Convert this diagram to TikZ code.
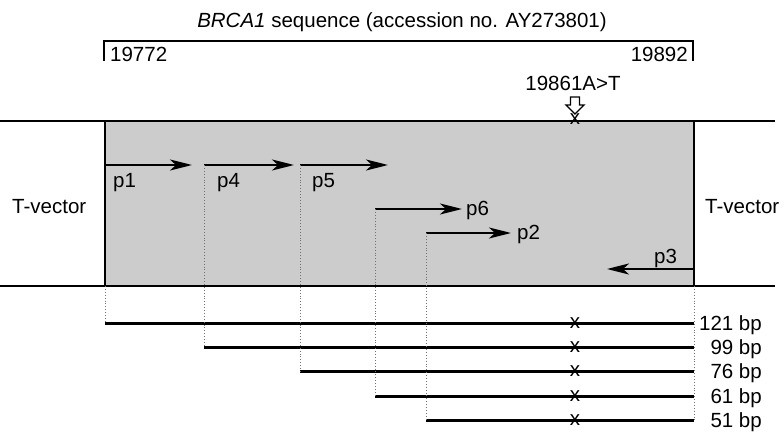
\documentclass[tikz,border=0pt]{standalone}
\usepackage{fontspec}
\setmainfont{Liberation Sans}
\usetikzlibrary{arrows.meta}
\definecolor{insertgray}{HTML}{CCCCCC}
\begin{document}
\begin{tikzpicture}[x=1pt,y=-1pt,
  lbl/.style={font=\fontsize{20.5}{24}\selectfont, inner sep=0pt},
  primer/.style={line width=2.3pt, -{Stealth[length=22pt,width=11pt,inset=6pt]}},
  frag/.style={line width=3pt},
  guide/.style={dotted, line width=0.9pt, black!55},
  rule/.style={line width=1.4pt},
  mut/.style={lbl}]
\useasboundingbox (0,0) rectangle (784,436);

% cloned insert (grey) between the vector arms
\fill[insertgray] (105,121) rectangle (694,286);
\coordinate (tl) at (0,121);   \coordinate (tr) at (775,121);
\coordinate (bl) at (0,286);   \coordinate (br) at (775,286);
\coordinate (il) at (105,121); \coordinate (ilb) at (105,286);
\coordinate (ir) at (694,121); \coordinate (irb) at (694,286);
\draw[rule] (tl) -- (tr);
\draw[rule] (bl) -- (br);
\draw[rule] (il) -- (ilb);
\draw[rule] (ir) -- (irb);

% title and sequence bracket
\node[lbl, anchor=base] (title) at (402,28) {\textit{BRCA1} sequence (accession no. AY273801)};
\coordinate (bk1) at (104,61); \coordinate (bk2) at (104,41);
\coordinate (bk3) at (693,41); \coordinate (bk4) at (693,61);
\draw[rule] (bk1) -- (bk2) -- (bk3) -- (bk4);
\node[lbl, anchor=base west] (start) at (110,62) {19772};
\node[lbl, anchor=base east] (stop) at (688,62) {19892};

% mutation marker
\node[lbl, anchor=base] (mutlbl) at (573,90) {19861A>T};
\draw[line width=1.3pt, fill=white] (570.5,97) -- (579.5,97) -- (579.5,105) -- (584,105)
  -- (575,114) -- (566,105) -- (570.5,105) -- cycle;
\node[mut] (mtop) at (575,119) {x};

% vector labels
\node[lbl, anchor=base west] (tvl) at (12,213) {T-vector};
\node[lbl, anchor=base west] (tvr) at (705,213) {T-vector};

% primers
\coordinate (p1s) at (105,165); \coordinate (p1e) at (192,165);
\coordinate (p4s) at (204,165); \coordinate (p4e) at (294,165);
\coordinate (p5s) at (300,165); \coordinate (p5e) at (388,165);
\coordinate (p6s) at (375,209); \coordinate (p6e) at (462,209);
\coordinate (p2s) at (426,233); \coordinate (p2e) at (511,233);
\coordinate (p3s) at (694,269); \coordinate (p3e) at (607,269);
\draw[primer] (p1s) -- (p1e);
\draw[primer] (p4s) -- (p4e);
\draw[primer] (p5s) -- (p5e);
\draw[primer] (p6s) -- (p6e);
\draw[primer] (p2s) -- (p2e);
\draw[primer] (p3s) -- (p3e);
\node[lbl, anchor=base west] (l1) at (113,187) {p1};
\node[lbl, anchor=base west] (l4) at (217,187) {p4};
\node[lbl, anchor=base west] (l5) at (312,187) {p5};
\node[lbl, anchor=base west] (l6) at (466,215) {p6};
\node[lbl, anchor=base west] (l2) at (517,239) {p2};
\node[lbl, anchor=base west] (l3) at (654,263) {p3};

% amplified fragments
\coordinate (f1s) at (105,323); \coordinate (f1e) at (694,323);
\coordinate (f2s) at (204,347); \coordinate (f2e) at (694,347);
\coordinate (f3s) at (300,371); \coordinate (f3e) at (694,371);
\coordinate (f4s) at (375,396); \coordinate (f4e) at (694,396);
\coordinate (f5s) at (426,420); \coordinate (f5e) at (694,420);
\draw[frag] (f1s) -- (f1e);
\draw[frag] (f2s) -- (f2e);
\draw[frag] (f3s) -- (f3e);
\draw[frag] (f4s) -- (f4e);
\draw[frag] (f5s) -- (f5e);

% guides from primer ends down to fragment starts
\draw[guide] (ilb) -- (f1s);
\draw[guide] (p4s) -- (f2s);
\draw[guide] (p5s) -- (f3s);
\draw[guide] (p6s) -- (f4s);
\draw[guide] (p2s) -- (f5s);
\draw[guide] (irb) -- (f5e);

% mutation position on each fragment
\foreach \y/\n in {323/m1,347/m2,371/m3,396/m4,420/m5}
  \node[mut] (\n) at (575,\y) {x};

% fragment sizes
\node[lbl, anchor=base east] (s1) at (762,330) {121 bp};
\node[lbl, anchor=base east] (s2) at (762,354) {99 bp};
\node[lbl, anchor=base east] (s3) at (762,378) {76 bp};
\node[lbl, anchor=base east] (s4) at (762,403) {61 bp};
\node[lbl, anchor=base east] (s5) at (762,427) {51 bp};
\end{tikzpicture}
\end{document}
